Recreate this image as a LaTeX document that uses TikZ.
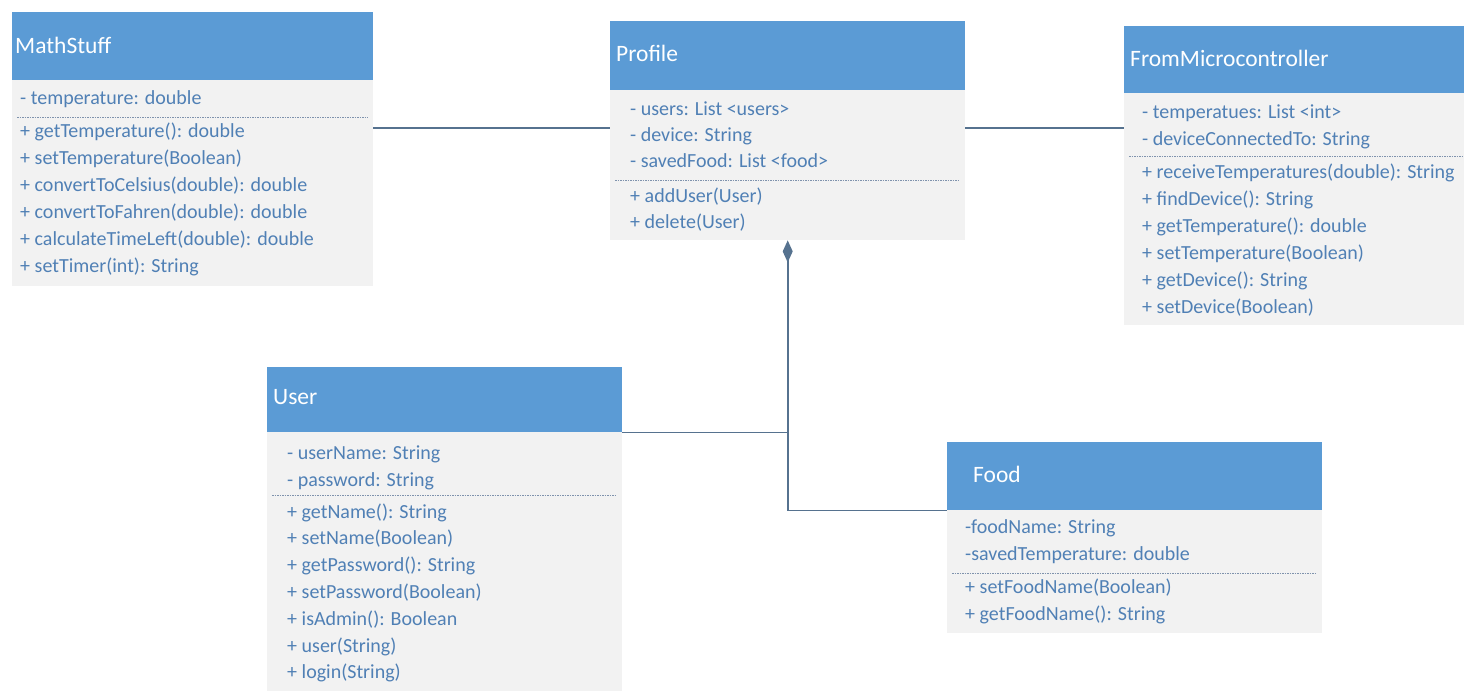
\documentclass[tikz,border=0pt]{standalone}
\usepackage{fontspec}
\setmainfont{Carlito}
\usetikzlibrary{arrows.meta}
\definecolor{hdr}{HTML}{5B9BD5}
\definecolor{bdy}{HTML}{F2F2F2}
\definecolor{txtc}{HTML}{5080B5}
\definecolor{conc}{HTML}{56728F}
\definecolor{dashc}{HTML}{7F93AD}
\tikzset{
  hbox/.style={fill=hdr, draw=none, inner sep=0pt, anchor=north west},
  bbox/.style={fill=bdy, draw=none, inner sep=0pt, anchor=north west},
  ttl/.style={text=white, font=\fontsize{23.5}{26}\selectfont, anchor=base west, inner sep=0pt},
  mem/.style={text=txtc, font=\fontsize{20}{24}\selectfont, anchor=base west, inner sep=0pt},
  sep/.style={draw=dashc, line width=1pt, dash pattern=on 1.5pt off 1pt},
  conn/.style={draw=conc, line width=1.6pt},
}
\begin{document}
\begin{tikzpicture}[x=1pt,y=-1pt]
\useasboundingbox[fill=white] (0,0) rectangle (1464,691);
% MathStuff
\node[hbox, minimum width=361pt, minimum height=68pt] (mh) at (12,12) {};
\node[bbox, minimum width=361pt, minimum height=206pt] (mb) at (12,80) {};
\node[ttl] (mt) at (15,53) {MathStuff};
\node[mem] (ma1) at (20,104) {- temperature: double};
\draw[sep] (17,117) -- (368,117);
\foreach \t [count=\i] in {{+ getTemperature(): double},{+ setTemperature(Boolean)},{+ convertToCelsius(double): double},{+ convertToFahren(double): double},{+ calculateTimeLeft(double): double},{+ setTimer(int): String}}
  \node[mem] (mm\i) at (20,{137+27*(\i-1)}) {\t};
% Profile
\node[hbox, minimum width=355pt, minimum height=69pt] (ph) at (610,21) {};
\node[bbox, minimum width=355pt, minimum height=150pt] (pb) at (610,90) {};
\node[ttl] (pt) at (616,61) {Profile};
\foreach \t [count=\i] in {{- users: List <users>},{- device: String},{- savedFood: List <food>}}
  \node[mem] (pa\i) at (630,{115+26*(\i-1)}) {\t};
\draw[sep] (615,180) -- (960,180);
\foreach \t [count=\i] in {{+ addUser(User)},{+ delete(User)}}
  \node[mem] (pm\i) at (630,{202+26*(\i-1)}) {\t};
% FromMicrocontroller
\node[hbox, minimum width=340pt, minimum height=67pt] (fh) at (1124,26) {};
\node[bbox, minimum width=340pt, minimum height=232pt] (fb) at (1124,93) {};
\node[ttl] (ft) at (1130,66) {FromMicrocontroller};
\foreach \t [count=\i] in {{- temperatues: List <int>},{- deviceConnectedTo: String}}
  \node[mem] (fa\i) at (1142,{118+27*(\i-1)}) {\t};
\draw[sep] (1129,156) -- (1464,156);
\foreach \t [count=\i] in {{+ receiveTemperatures(double): String},{+ findDevice(): String},{+ getTemperature(): double},{+ setTemperature(Boolean)},{+ getDevice(): String},{+ setDevice(Boolean)}}
  \node[mem] (fm\i) at (1142,{178+27*(\i-1)}) {\t};
% User
\node[hbox, minimum width=355pt, minimum height=65pt] (uh) at (267,367) {};
\node[bbox, minimum width=355pt, minimum height=259pt] (ub) at (267,432) {};
\node[ttl] (ut) at (273,404) {User};
\foreach \t [count=\i] in {{- userName: String},{- password: String}}
  \node[mem] (ua\i) at (287,{459+27*(\i-1)}) {\t};
\draw[sep] (272,495) -- (617,495);
\foreach \t [count=\i] in {{+ getName(): String},{+ setName(Boolean)},{+ getPassword(): String},{+ setPassword(Boolean)},{+ isAdmin(): Boolean},{+ user(String)},{+ login(String)}}
  \node[mem] (um\i) at (287,{518+26.8*(\i-1)}) {\t};
% Food
\node[hbox, minimum width=375pt, minimum height=68pt] (dh) at (947,442) {};
\node[bbox, minimum width=375pt, minimum height=123pt] (db) at (947,510) {};
\node[ttl] (dt) at (973,482) {Food};
\foreach \t [count=\i] in {{-foodName: String},{-savedTemperature: double}}
  \node[mem] (da\i) at (965,{533+27*(\i-1)}) {\t};
\draw[sep] (952,573) -- (1317,573);
\foreach \t [count=\i] in {{+ setFoodName(Boolean)},{+ getFoodName(): String}}
  \node[mem] (dm\i) at (965,{593+27*(\i-1)}) {\t};
% connectors
\draw[conn] (mb.east |- 0,128) -- (pb.west |- 0,128);
\draw[conn] (pb.east |- 0,128) -- (fb.west |- 0,128);
\draw[conn, {Diamond[length=22pt,width=10pt,fill=conc]}-] (pb.south) |- (dh.south west);
\draw[conn] (uh.south east) -- (uh.south east -| pb.south);
\end{tikzpicture}
\end{document}
